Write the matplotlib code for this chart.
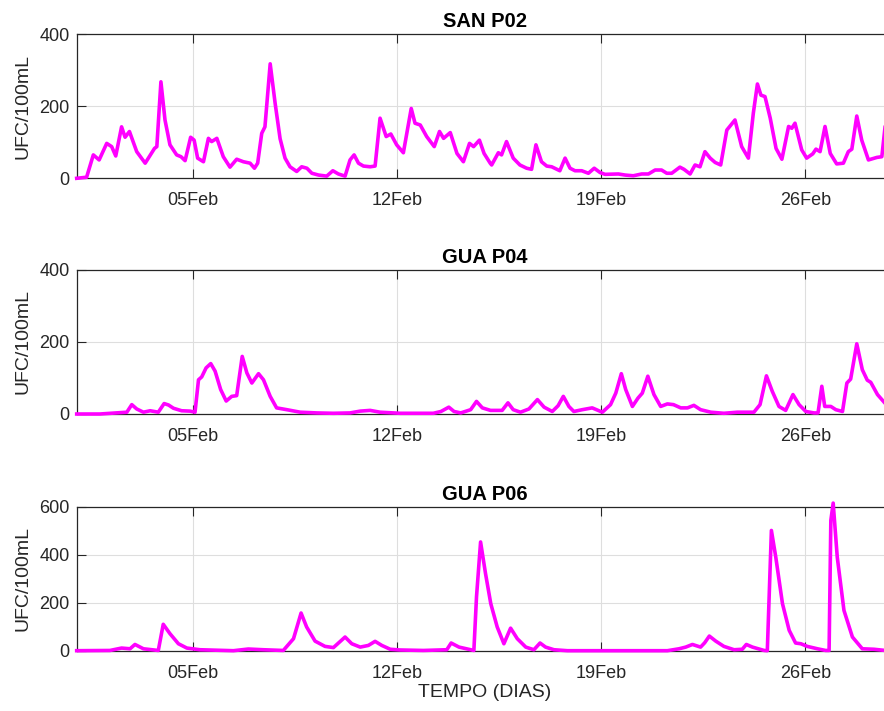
import datetime as dt
import matplotlib
matplotlib.use("Agg")
import matplotlib.pyplot as plt
import matplotlib.dates as mdates

plt.rcParams['font.family'] = ['Liberation Sans', 'DejaVu Sans']

START = dt.datetime(2024, 2, 1)
END = dt.datetime(2024, 2, 29)

titles = ["SAN P02", "GUA P04", "GUA P06"]
y_limits = [400, 400, 600]
y_ticks = [[0, 200, 400], [0, 200, 400], [0, 200, 400, 600]]

# days since 01Feb, values (UFC/100mL)
san_p02_days = [0, 0.34, 0.57, 0.77, 1.03, 1.2, 1.34, 1.54, 1.66, 1.81, 2.06, 2.35, 2.67, 2.75,
                2.89, 3.03, 3.2, 3.43, 3.58, 3.72, 3.91, 4.03, 4.15, 4.35, 4.52, 4.63, 4.81,
                5.03, 5.26, 5.49, 5.72, 5.95, 6.1, 6.21, 6.35, 6.46, 6.64, 6.81, 6.98, 7.15,
                7.32, 7.55, 7.72, 7.9, 8.07, 8.3, 8.58, 8.79, 8.98, 9.21, 9.38, 9.52, 9.67,
                9.84, 10.07, 10.24, 10.41, 10.62, 10.78, 10.98, 11.21, 11.48, 11.61, 11.79,
                12.01, 12.27, 12.45, 12.59, 12.82, 13.05, 13.27, 13.48, 13.62, 13.82, 13.98,
                14.19, 14.24, 14.47, 14.58, 14.75, 14.98, 15.21, 15.44, 15.61, 15.76, 15.95,
                16.13, 16.3, 16.58, 16.76, 16.93, 17.1, 17.33, 17.56, 17.76, 17.96, 18.13,
                18.59, 18.82, 19.1, 19.39, 19.62, 19.85, 20.07, 20.25, 20.42, 20.7, 20.84,
                21.05, 21.22, 21.39, 21.56, 21.74, 21.91, 22.1, 22.31, 22.45, 22.59, 22.82,
                23.05, 23.22, 23.36, 23.48, 23.62, 23.8, 24.0, 24.2, 24.43, 24.54, 24.65,
                24.88, 25.05, 25.26, 25.37, 25.51, 25.68, 25.86, 26.08, 26.31, 26.48, 26.6,
                26.77, 26.94, 27.17, 27.46, 27.63, 27.75]
san_p02_vals = [0, 3, 65, 51, 97, 88, 62, 143, 114, 130, 74, 42, 83, 88,
                268, 162, 93, 65, 60, 49, 114, 106, 56, 46, 111, 102, 111,
                60, 31, 53, 46, 42, 28, 42, 125, 143, 318, 208, 110, 56,
                32, 19, 32, 28, 14, 9, 6, 21, 12, 6, 51, 65, 42,
                34, 32, 34, 167, 116, 123, 93, 71, 194, 153, 148,
                116, 88, 130, 111, 127, 69, 46, 97, 88, 106, 69,
                42, 37, 71, 65, 102, 56, 37, 28, 25, 93, 46,
                34, 32, 21, 56, 28, 21, 21, 14, 28, 16, 11,
                12, 9, 7, 12, 12, 23, 23, 14, 14, 31, 25,
                12, 37, 32, 74, 56, 44, 37, 134, 148, 162, 88,
                56, 181, 262, 231, 227, 167, 83, 53, 144, 139, 153,
                79, 56, 68, 81, 74, 144, 69, 40, 42, 74, 81,
                173, 106, 51, 58, 60, 150]

gua_p04_days = [0, 0.8, 1.72, 1.89, 2.06, 2.29, 2.52, 2.8, 3.0, 3.15, 3.32, 3.6, 3.89, 4.06,
                4.18, 4.29, 4.44, 4.6, 4.75, 4.94, 5.13, 5.32, 5.49, 5.68, 5.84, 6.01, 6.24,
                6.41, 6.64, 6.86, 7.21, 7.67, 8.24, 8.81, 9.38, 9.73, 10.07, 10.41, 11.1,
                12.24, 12.5, 12.77, 12.95, 13.18, 13.52, 13.72, 13.92, 14.2, 14.6, 14.8, 14.98,
                15.23, 15.52, 15.81, 16.04, 16.32, 16.52, 16.7, 16.89, 17.06, 17.35, 17.69,
                18.04, 18.32, 18.5, 18.69, 18.84, 19.07, 19.26, 19.41, 19.6, 19.81, 20.04,
                20.27, 20.48, 20.73, 20.96, 21.18, 21.41, 21.76, 22.21, 22.67, 23.02, 23.24,
                23.45, 23.67, 23.87, 24.1, 24.33, 24.58, 24.79, 25.02, 25.3, 25.44, 25.57,
                25.67, 25.88, 26.05, 26.28, 26.43, 26.56, 26.77, 26.96, 27.13, 27.25, 27.48,
                27.75]
gua_p04_vals = [0, 0, 5, 26, 14, 5, 9, 5, 29, 25, 16, 9, 8, 5,
                95, 103, 128, 140, 119, 68, 36, 49, 51, 160, 114, 86, 112,
                95, 49, 17, 12, 5, 3, 2, 3, 8, 10, 5, 2,
                2, 7, 19, 7, 3, 12, 35, 17, 10, 10, 31, 12,
                5, 14, 40, 19, 7, 23, 49, 21, 7, 12, 17,
                5, 26, 58, 112, 68, 21, 44, 58, 105, 54, 21,
                28, 26, 17, 17, 24, 12, 5, 2, 5, 5, 5,
                26, 106, 63, 21, 10, 54, 26, 7, 3, 3, 77,
                21, 21, 12, 7, 86, 97, 195, 123, 94, 88, 54,
                29]

gua_p06_days = [0, 1.14, 1.54, 1.83, 2.0, 2.29, 2.8, 2.97, 3.2, 3.49, 3.78, 4.23, 5.38, 5.89,
                6.41, 7.09, 7.44, 7.7, 7.89, 8.18, 8.52, 8.81, 9.21, 9.44, 9.73, 10.01, 10.24,
                10.47, 10.76, 11.1, 11.9, 12.7, 12.85, 13.12, 13.63, 13.72, 13.86, 14.03,
                14.21, 14.43, 14.66, 14.89, 15.12, 15.41, 15.69, 15.9, 16.09, 16.38, 16.84,
                20.27, 20.67, 20.9, 21.13, 21.41, 21.55, 21.71, 21.93, 22.21, 22.56, 22.84,
                22.98, 23.19, 23.59, 23.7, 23.84, 23.99, 24.22, 24.45, 24.67, 24.85, 25.07,
                25.42, 25.7, 25.82, 25.88, 25.96, 26.1, 26.33, 26.62, 26.96, 27.36, 27.75]
gua_p06_vals = [0, 1, 11, 8, 26, 8, 1, 110, 71, 29, 11, 4, 0, 7,
                4, 1, 50, 157, 99, 40, 18, 13, 57, 29, 15, 22, 39,
                22, 6, 3, 1, 4, 32, 15, 1, 224, 453, 321,
                196, 99, 29, 94, 50, 15, 4, 32, 15, 4, 0,
                0, 8, 15, 26, 15, 33, 61, 40, 18, 4, 6,
                26, 15, 1, 0, 501, 390, 196, 85, 32, 29, 18,
                8, 1, 1, 543, 615, 390, 168, 57, 8, 6, 1]

series_days = [san_p02_days, gua_p04_days, gua_p06_days]
series_vals = [san_p02_vals, gua_p04_vals, gua_p06_vals]

W, H = 884, 711
fig = plt.figure(figsize=(W / 100, H / 100), dpi=100)
fig.patch.set_facecolor('white')

left_px = 76.7
tops_px = [34.3, 270.0, 506.7]
h_px = 144.0
w_px = 28 * 29.14

txt_col = '#262626'
for i in range(3):
    ax = fig.add_axes([left_px / W, (H - tops_px[i] - h_px) / H, w_px / W, h_px / H])
    t = [START + dt.timedelta(days=d) for d in series_days[i]]
    ax.plot(t, series_vals[i], color='#FF00FF', lw=2.6, clip_on=False, zorder=3,
            solid_joinstyle='round')
    ax.set_xlim(START, END)
    ax.set_ylim(0, y_limits[i])
    ax.set_yticks(y_ticks[i])
    ax.xaxis.set_major_locator(mdates.DayLocator(bymonthday=[5, 12, 19, 26]))
    ax.xaxis.set_major_formatter(mdates.DateFormatter('%d%b'))
    ax.grid(True, color='#dedede', lw=0.8, zorder=0)
    ax.set_axisbelow(True)
    ax.tick_params(direction='in', length=6.5, width=0.8, top=True, right=True,
                   labelsize=13, colors=txt_col)
    ax.tick_params(axis='x', pad=10)
    ax.tick_params(axis='y', pad=5)
    for s in ax.spines.values():
        s.set_color(txt_col)
        s.set_linewidth(0.9)
    ax.set_title(titles[i], fontsize=14.5, fontweight='bold', pad=5, color='black')
    ax.set_ylabel('UFC/100mL', fontsize=14, color=txt_col, labelpad=6)
    if i == 2:
        ax.set_xlabel('TEMPO (DIAS)', fontsize=14, color=txt_col, labelpad=2)

fig.savefig('out.png', dpi=100, facecolor='white')
